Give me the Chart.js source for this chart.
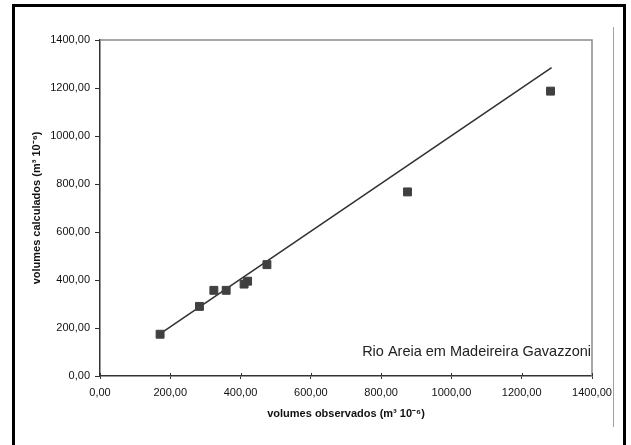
<!DOCTYPE html>
<html>
<head>
<meta charset="utf-8">
<title>Rio Areia em Madeireira Gavazzoni</title>
<script src="https://cdn.jsdelivr.net/npm/chart.js@4.4.1/dist/chart.umd.min.js"></script>
<style>
    html, body { margin: 0; padding: 0; background: #fff; }
    canvas { display: block; }
</style>
</head>
<body>
<canvas id="volChart" width="631" height="445"></canvas>
<script>
// valores (m3 10^-6)
const volObservados = [171, 283, 324, 359, 410, 420, 475, 875, 1282];
const volCalculados = [174, 290, 357, 357, 383, 395, 464, 767, 1187];
// reta de ajuste (extremos)
const retaX = [180, 1285];
const retaY = [185, 1285];
const xTicks = [0, 200, 400, 600, 800, 1000, 1200, 1400];
const yTicks = [0, 200, 400, 600, 800, 1000, 1200, 1400];
const legenda = 'Rio Areia em Madeireira Gavazzoni';

const FONT = '"Liberation Sans", Arial, sans-serif';
const fmt = v => Number(v).toFixed(2).replace('.', ',');

// moldura, borda superior/direita do gráfico, ticks do eixo x e legenda
const decor = {
    id: 'decor',
    beforeDraw(chart) {
        const ctx = chart.ctx;
        ctx.save();
        ctx.fillStyle = '#fff';
        ctx.fillRect(0, 0, chart.width, chart.height);
        ctx.restore();
    },
    afterDraw(chart) {
        const { ctx, chartArea: a } = chart;
        const xs = chart.scales.x;
        ctx.save();
        // borda cinza superior e direita
        ctx.strokeStyle = '#8a8a8a';
        ctx.lineWidth = 1.5;
        ctx.beginPath();
        ctx.moveTo(a.left, a.top);
        ctx.lineTo(a.right, a.top);
        ctx.lineTo(a.right, a.bottom);
        ctx.stroke();
        // ticks do eixo x cruzando a linha
        ctx.strokeStyle = '#333';
        ctx.lineWidth = 1;
        xTicks.forEach(t => {
            const px = Math.round(xs.getPixelForValue(t)) + 0.5;
            ctx.beginPath();
            ctx.moveTo(px, a.bottom - 3);
            ctx.lineTo(px, a.bottom);
            ctx.stroke();
        });
        // texto
        ctx.fillStyle = '#222';
        ctx.font = '14.5px ' + FONT;
        ctx.textAlign = 'right';
        ctx.textBaseline = 'alphabetic';
        ctx.fillText(legenda, a.right - 1, a.bottom - 20);
        // moldura preta
        ctx.strokeStyle = '#000';
        ctx.lineWidth = 3;
        ctx.strokeRect(13.5, 5.5, 611, 460);
        // linha cinza vertical
        ctx.strokeStyle = '#a0a0a0';
        ctx.lineWidth = 1;
        ctx.beginPath();
        ctx.moveTo(613.5, 27);
        ctx.lineTo(613.5, 427);
        ctx.stroke();
        ctx.restore();
    }
};

new Chart(document.getElementById('volChart'), {
    type: 'scatter',
    data: {
        datasets: [
            {
                label: 'reta',
                data: retaX.map((x, i) => ({ x: x, y: retaY[i] })),
                showLine: true,
                borderColor: '#333',
                borderWidth: 1.6,
                pointRadius: 0,
                order: 2
            },
            {
                label: 'volumes',
                data: volObservados.map((x, i) => ({ x: x, y: volCalculados[i] })),
                pointStyle: 'rect',
                pointRadius: 5.6,
                pointBorderWidth: 1,
                backgroundColor: '#404040',
                borderColor: '#404040',
                order: 1
            }
        ]
    },
    options: {
        responsive: false,
        animation: false,
        devicePixelRatio: 1,
        layout: { padding: { left: 15, right: 39, top: 40, bottom: 19 } },
        plugins: { legend: { display: false }, tooltip: { enabled: false } },
        scales: {
            x: {
                type: 'linear',
                min: 0, max: 1400,
                afterBuildTicks: s => { s.ticks = xTicks.map(v => ({ value: v })); },
                afterFit: s => { s.height = 50; },
                border: { display: true, color: '#333', width: 1.5 },
                grid: { drawOnChartArea: false, drawTicks: true, tickLength: 3, color: '#333' },
                ticks: {
                    padding: 7,
                    color: '#111',
                    font: { family: FONT, size: 11 },
                    maxRotation: 0,
                    callback: v => fmt(v)
                },
                title: {
                    display: true,
                    text: 'volumes observados (m³ 10⁻⁶)',
                    color: '#111',
                    font: { family: FONT, size: 11, weight: 'bold' },
                    padding: { top: 4, bottom: 5 }
                }
            },
            y: {
                type: 'linear',
                min: 0, max: 1400,
                afterBuildTicks: s => { s.ticks = yTicks.map(v => ({ value: v })); },
                afterFit: s => { s.width = 85; },
                border: { display: true, color: '#333', width: 1.5 },
                grid: { drawOnChartArea: false, drawTicks: true, tickLength: 5, color: '#333' },
                ticks: {
                    padding: 5,
                    color: '#111',
                    font: { family: FONT, size: 11 },
                    callback: v => fmt(v)
                },
                title: {
                    display: true,
                    text: 'volumes calculados (m³ 10⁻⁶)',
                    color: '#111',
                    font: { family: FONT, size: 11, weight: 'bold' },
                    padding: { top: 15, bottom: 4 }
                }
            }
        }
    },
    plugins: [decor]
});
</script>
</body>
</html>
